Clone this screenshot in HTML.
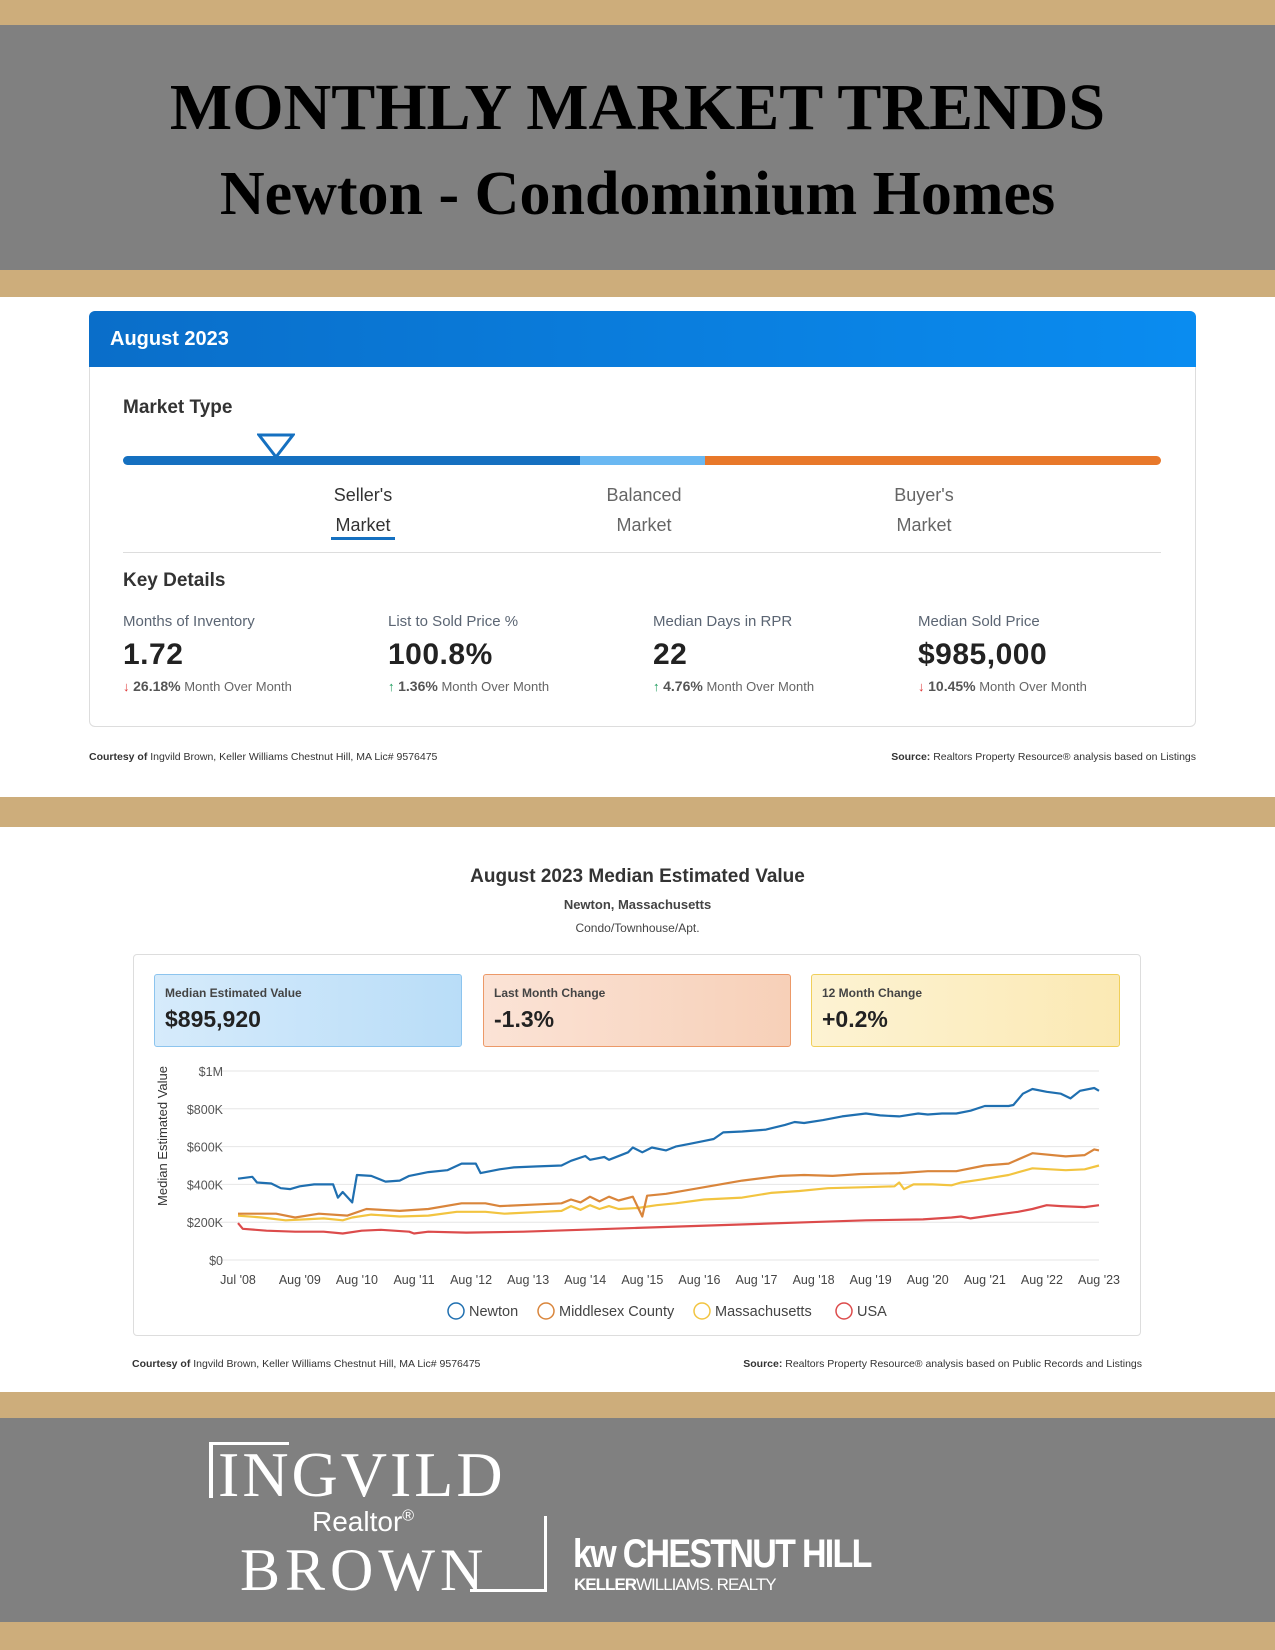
<!DOCTYPE html>
<html><head><meta charset="utf-8"><style>
*{margin:0;padding:0;box-sizing:border-box}
body{width:1275px;height:1650px;position:relative;background:#fff;font-family:"Liberation Sans",sans-serif;overflow:hidden}
.a{position:absolute}
.tan{background:#cdad7b;left:0;width:1275px}
.gray{background:#808080;left:0;width:1275px}
.lbl{color:#5b6573;font-size:15px}
.val{color:#222;font-size:30px;font-weight:bold;letter-spacing:.5px}
.chg{font-size:13px;color:#666}
.chg b{font-weight:bold;font-size:14px;color:#555}
.dn{color:#d33}.up{color:#1a9a5a}
.foot{font-size:10.5px;color:#333}
.box{border-radius:3px;padding:11px 10px}
.box .t{font-size:12px;color:#444;font-weight:bold}
.box .v{font-size:23px;color:#222;font-weight:bold;margin-top:6px}
</style></head><body>
<div class="a tan" style="top:0;height:25px"></div>
<div class="a gray" style="top:25px;height:245px">
 <div class="a" style="left:0;width:1275px;top:45px;text-align:center;font:bold 66px 'Liberation Serif',serif;color:#000">MONTHLY MARKET TRENDS</div>
 <div class="a" style="left:0;width:1275px;top:134px;text-align:center;font:bold 62px 'Liberation Serif',serif;color:#000">Newton - Condominium Homes</div>
</div>
<div class="a tan" style="top:270px;height:27px"></div>

<div class="a" style="left:89px;top:311px;width:1107px;height:416px;border:1px solid #ddd;border-radius:6px">
 <div class="a" style="left:-1px;top:-1px;width:1107px;height:56px;background:linear-gradient(90deg,#0a6ec9,#0a8cf0);border-radius:6px 6px 0 0">
  <div class="a" style="left:21px;top:17px;color:#fff;font-size:20px;font-weight:bold">August 2023</div>
 </div>
 <div class="a" style="left:33px;top:85px;font-size:19px;font-weight:bold;color:#333">Market Type</div>
 <div class="a" style="left:33px;top:144px;width:1038px;height:9px;border-radius:5px;background:linear-gradient(90deg,#1570c0 0,#1570c0 457px,#6ab8f2 457px,#6ab8f2 582px,#e8782a 582px)"></div>
 <svg class="a" style="left:167px;top:121px" width="38" height="26"><polygon points="2,2 36,2 19,24" fill="#fff" stroke="#1570c0" stroke-width="3"/></svg>
 <div class="a" style="left:213px;top:168px;width:120px;text-align:center;font-size:18px;line-height:30px;color:#333">Seller's<br>Market</div>
 <div class="a" style="left:241px;top:225px;width:64px;height:3px;background:#1570c0"></div>
 <div class="a" style="left:494px;top:168px;width:120px;text-align:center;font-size:18px;line-height:30px;color:#666">Balanced<br>Market</div>
 <div class="a" style="left:774px;top:168px;width:120px;text-align:center;font-size:18px;line-height:30px;color:#666">Buyer's<br>Market</div>
 <div class="a" style="left:33px;top:240px;width:1038px;height:1px;background:#ddd"></div>
 <div class="a" style="left:33px;top:258px;font-size:19px;font-weight:bold;color:#333">Key Details</div>
 <div class="a" style="left:33px;top:301px"><div class="lbl">Months of Inventory</div><div class="val" style="margin-top:8px">1.72</div><div class="chg" style="margin-top:6px"><span class="dn">&#8595;</span> <b>26.18%</b> Month Over Month</div></div>
 <div class="a" style="left:298px;top:301px"><div class="lbl">List to Sold Price %</div><div class="val" style="margin-top:8px">100.8%</div><div class="chg" style="margin-top:6px"><span class="up">&#8593;</span> <b>1.36%</b> Month Over Month</div></div>
 <div class="a" style="left:563px;top:301px"><div class="lbl">Median Days in RPR</div><div class="val" style="margin-top:8px">22</div><div class="chg" style="margin-top:6px"><span class="up">&#8593;</span> <b>4.76%</b> Month Over Month</div></div>
 <div class="a" style="left:828px;top:301px"><div class="lbl">Median Sold Price</div><div class="val" style="margin-top:8px">$985,000</div><div class="chg" style="margin-top:6px"><span class="dn">&#8595;</span> <b>10.45%</b> Month Over Month</div></div>
</div>
<div class="a foot" style="left:89px;top:751px"><b>Courtesy of</b> Ingvild Brown, Keller Williams Chestnut Hill, MA Lic# 9576475</div>
<div class="a foot" style="right:79px;top:751px"><b>Source:</b> Realtors Property Resource® analysis based on Listings</div>

<div class="a tan" style="top:797px;height:30px"></div>

<div class="a" style="left:0;width:1275px;top:866px;text-align:center;font-size:19px;font-weight:bold;color:#333">August 2023 Median Estimated Value</div>
<div class="a" style="left:0;width:1275px;top:897px;text-align:center;font-size:13px;font-weight:bold;color:#444">Newton, Massachusetts</div>
<div class="a" style="left:0;width:1275px;top:921px;text-align:center;font-size:12px;color:#444">Condo/Townhouse/Apt.</div>

<div class="a" style="left:133px;top:954px;width:1008px;height:382px;border:1px solid #ddd;border-radius:4px"></div>
<div class="a box" style="left:154px;top:974px;width:308px;height:73px;background:linear-gradient(90deg,#d6ebfb,#b9ddf8);border:1px solid #8cc4ee"><div class="t">Median Estimated Value</div><div class="v">$895,920</div></div>
<div class="a box" style="left:483px;top:974px;width:308px;height:73px;background:linear-gradient(90deg,#fbe3d6,#f7d0b8);border:1px solid #ec9968"><div class="t">Last Month Change</div><div class="v">-1.3%</div></div>
<div class="a box" style="left:811px;top:974px;width:309px;height:73px;background:linear-gradient(90deg,#fdf3d3,#fbe9b4);border:1px solid #f0cf5a"><div class="t">12 Month Change</div><div class="v">+0.2%</div></div>

<svg id="chart" class="a" style="left:0;top:0" width="1275" height="1650"></svg>

<div class="a foot" style="left:132px;top:1358px"><b>Courtesy of</b> Ingvild Brown, Keller Williams Chestnut Hill, MA Lic# 9576475</div>
<div class="a foot" style="right:133px;top:1358px"><b>Source:</b> Realtors Property Resource® analysis based on Public Records and Listings</div>

<div class="a tan" style="top:1392px;height:26px"></div>
<div class="a gray" style="top:1418px;height:204px">
 <div class="a" style="left:209px;top:24px;width:4px;height:56px;background:#fff"></div>
 <div class="a" style="left:209px;top:24px;width:80px;height:3px;background:#fff"></div>
 <div class="a" style="left:218px;top:20px;font:64px 'Liberation Serif',serif;color:#fff;letter-spacing:3px">INGVILD</div>
 <div class="a" style="left:312px;top:88px;font:28px 'Liberation Sans',sans-serif;color:#fff">Realtor<sup style="font-size:16px">®</sup></div>
 <div class="a" style="left:240px;top:118px;font:60px 'Liberation Serif',serif;color:#fff;letter-spacing:5px">BROWN</div>
 <div class="a" style="left:544px;top:98px;width:3px;height:76px;background:#fff"></div>
 <div class="a" style="left:470px;top:171px;width:77px;height:3px;background:#fff"></div>
 <div class="a" style="left:573px;top:114px;font:bold 40px 'Liberation Sans',sans-serif;color:#fff;letter-spacing:-2px;transform:scaleX(.85);transform-origin:left">kw CHESTNUT HILL</div>
 <div class="a" style="left:574px;top:157px;font:17px 'Liberation Sans',sans-serif;color:#fff;letter-spacing:-1px"><b>KELLER</b>WILLIAMS. REALTY</div>
</div>
<div class="a tan" style="top:1622px;height:28px"></div>

<script>
const yTicks=[0,200,400,600,800,1000];
const yTickLabels=["$0","$200K","$400K","$600K","$800K","$1M"];
const xTickMonths=[0,13,25,37,49,61,73,85,97,109,121,133,145,157,169,181];
const xTickLabels=["Jul '08","Aug '09","Aug '10","Aug '11","Aug '12","Aug '13","Aug '14","Aug '15","Aug '16","Aug '17","Aug '18","Aug '19","Aug '20","Aug '21","Aug '22","Aug '23"];
const seriesNames=["Newton","Middlesex County","Massachusetts","USA"];
const newtonMonths=[0,3,4,7,9,11,13,16,20,21,22,24,25,28,31,34,36,40,44,47,50,51,55,58,63,68,70,73,74,77,78,82,83,85,87,90,92,95,98,100,102,106,111,115,117,119,123,127,132,135,139,143,145,148,151,154,157,162,163,165,167,170,173,175,177,180,181];
const newtonValues=[430,440,410,405,380,375,390,400,400,330,360,305,450,445,415,420,445,465,475,510,510,460,480,490,495,500,525,550,530,545,530,570,595,570,595,580,600,615,630,640,675,680,690,715,730,725,740,760,775,765,760,775,770,775,775,790,815,815,820,880,905,890,880,855,895,910,895];
const middlesexMonths=[0,8,12,17,23,27,34,40,47,52,55,64,68,70,72,74,76,78,80,83,85,86,90,98,106,114,119,125,131,139,145,151,157,162,167,174,178,180,181];
const middlesexValues=[245,245,225,245,235,270,260,270,300,300,285,295,300,320,305,335,310,335,315,335,230,340,350,385,420,445,450,445,455,460,470,470,500,510,565,548,555,585,580];
const massMonths=[0,5,10,14,18,22,24,28,34,40,46,52,56,64,68,70,72,74,76,78,80,84,88,92,98,106,112,118,124,132,138,139,140,142,146,150,152,156,162,167,174,178,181];
const massValues=[235,225,210,215,220,210,225,240,230,235,255,255,245,255,260,285,265,290,270,285,270,275,290,300,320,330,355,365,380,385,390,410,375,400,400,395,410,425,450,485,475,480,500];
const usaMonths=[0,1,6,12,18,22,26,30,36,37,40,48,60,72,84,96,108,120,132,144,150,152,154,158,164,167,170,173,178,181];
const usaValues=[195,165,155,150,150,140,155,160,150,140,150,145,150,160,170,180,190,200,210,215,225,230,220,235,255,270,290,285,280,290];
const colors=["#1f6fb0","#d9853b","#f2c440","#dc4b4b"];

const svg=document.getElementById('chart');
const NS='http://www.w3.org/2000/svg';
const X0=238,X1=1099,Y0=1260,YTOP=1071;
const xs=m=>X0+(X1-X0)*m/181;
const ys=v=>Y0-(Y0-YTOP)*v/1000;
function mk(tag,attrs){const e=document.createElementNS(NS,tag);for(const k in attrs)e.setAttribute(k,attrs[k]);svg.appendChild(e);return e;}
yTicks.forEach((t,i)=>{
 const g=mk('line',{x1:210,x2:X1,y1:ys(t),y2:ys(t),stroke:'#e6e6e6','stroke-width':1});
 
 
 const tx=mk('text',{x:223,y:ys(t)+5,'text-anchor':'end','font-size':12.5,fill:'#555','font-family':'Liberation Sans, sans-serif'});
 tx.textContent=yTickLabels[i];
 
 
});
xTickMonths.forEach((m,i)=>{
 const tx=mk('text',{x:xs(m),y:1284,'text-anchor':'middle','font-size':12.5,fill:'#444','font-family':'Liberation Sans, sans-serif'});
 tx.textContent=xTickLabels[i];
 
 
});
const yt=mk('text',{x:0,y:0,transform:'translate(167,1136) rotate(-90)','text-anchor':'middle','font-size':13,fill:'#333','font-family':'Liberation Sans, sans-serif'});
yt.textContent='Median Estimated Value';


const allM=[newtonMonths,middlesexMonths,massMonths,usaMonths];
const allV=[newtonValues,middlesexValues,massValues,usaValues];
for(let s=3;s>=0;s--){
 const d=allM[s].map((m,i)=>(i?'L':'M')+xs(m).toFixed(1)+','+ys(allV[s][i]).toFixed(1)).join(' ');
 const p=mk('path',{d:d,fill:'none',stroke:colors[s],'stroke-width':2.2,'stroke-linejoin':'round'});
 
 
}
const legX=[456,546,702,844];
seriesNames.forEach((n,i)=>{
 const c=mk('circle',{cx:legX[i],cy:1311,r:8,fill:'#fff',stroke:colors[i],'stroke-width':1.5});
 
 
 const t=mk('text',{x:legX[i]+13,y:1316,'font-size':14.5,fill:'#444','font-family':'Liberation Sans, sans-serif'});
 t.textContent=n;
 
 
});
</script>
</body></html>
